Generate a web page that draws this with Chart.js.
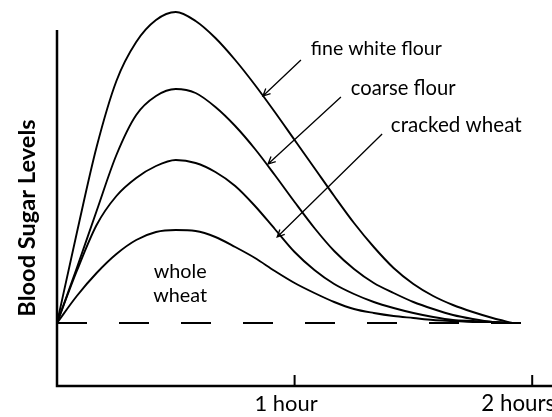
<!DOCTYPE html>
<html>
<head>
<meta charset="utf-8">
<script src="https://cdn.jsdelivr.net/npm/chart.js@4.4.0/dist/chart.umd.min.js"></script>
<style>
    html, body { margin: 0; padding: 0; background: #fff; }
    canvas { display: block; }
</style>
</head>
<body>
<canvas id="sugarChart" width="552" height="417"></canvas>
<script>
// Blood sugar response after eating, minutes after the meal
const minutes = [0, 5, 10, 15, 20, 25, 30, 35, 40, 45, 50, 55, 60, 65, 70, 75, 80, 85, 90, 95, 100, 105, 110, 115];
const fineWhiteFlour = [0, 90, 176, 242, 281, 303, 311, 302, 285, 263, 238, 211, 183, 155, 127, 100, 76, 55, 39, 27, 18, 11, 5, 0];
const coarseFlour = [0, 55, 112, 168, 208, 227, 234, 230, 216, 197, 174, 148, 121, 95, 72, 54, 40, 30, 21, 14, 8, 4, 1, 0];
const crackedWheat = [0, 52, 98, 127, 145, 157, 163, 160, 151, 137, 117, 94, 71, 53, 39, 29, 21, 15, 10, 6, 3, 2, 1, 0];
const wholeWheat = [0, 27, 50, 69, 83, 91, 93, 92, 86, 76, 65, 52, 40, 30, 21, 14, 10, 7, 5, 3, 2, 1, 1, 0];
// fasting level, drawn dashed
const baselineMinutes = [0, 118];
const hourTicks = [60, 120];
const hourLabels = ['1 hour', '2 hours'];

const toPoints = vals => vals.map((v, i) => ({ x: minutes[i], y: v }));

function curve(label, vals) {
    return {
        label,
        data: toPoints(vals),
        borderColor: '#000',
        borderWidth: 1.9,
        pointRadius: 0,
        cubicInterpolationMode: 'monotone',
        clip: false
    };
}

// text sized to a width, like the original lettering
function fitText(ctx, text, weight, width) {
    ctx.font = weight + ' 20px Lato';
    const size = 20 * width / ctx.measureText(text).width;
    ctx.font = weight + ' ' + size.toFixed(1) + 'px Lato';
}

function arrow(ctx, x1, y1, x2, y2) {
    const a = Math.atan2(y2 - y1, x2 - x1);
    ctx.beginPath();
    ctx.moveTo(x1, y1);
    ctx.lineTo(x2, y2);
    ctx.moveTo(x2 - 8 * Math.cos(a - 0.45), y2 - 8 * Math.sin(a - 0.45));
    ctx.lineTo(x2, y2);
    ctx.lineTo(x2 - 8 * Math.cos(a + 0.45), y2 - 8 * Math.sin(a + 0.45));
    ctx.stroke();
}

const decor = {
    id: 'decor',
    afterDatasetsDraw(chart) {
        const { ctx, chartArea, scales: { x, y } } = chart;
        const px = v => x.getPixelForValue(v);
        const py = v => y.getPixelForValue(v);
        ctx.save();
        ctx.strokeStyle = '#000';
        ctx.fillStyle = '#000';

        // axes
        ctx.lineWidth = 2.5;
        ctx.beginPath();
        ctx.moveTo(px(0), py(293));
        ctx.lineTo(px(0), chartArea.bottom);
        ctx.lineTo(chart.width, chartArea.bottom);
        ctx.stroke();

        // hour ticks point up into the plot
        ctx.lineWidth = 2;
        ctx.textAlign = 'right';
        ctx.textBaseline = 'alphabetic';
        hourTicks.forEach((t, i) => {
            ctx.beginPath();
            ctx.moveTo(px(t), chartArea.bottom);
            ctx.lineTo(px(t), chartArea.bottom - 11);
            ctx.stroke();
            fitText(ctx, hourLabels[i], 'normal', i === 0 ? 63 : 74);
            ctx.fillText(hourLabels[i], px(t) + 23, chartArea.bottom + 25);
        });

        // y title
        ctx.save();
        ctx.translate(chartArea.left - 30, 218);
        ctx.rotate(-Math.PI / 2);
        ctx.textAlign = 'center';
        ctx.textBaseline = 'middle';
        fitText(ctx, 'Blood Sugar Levels', 'bold', 197);
        ctx.fillText('Blood Sugar Levels', 0, 0);
        ctx.restore();

        // curve labels
        ctx.textAlign = 'left';
        fitText(ctx, 'fine white flour', 'normal', 131);
        ctx.fillText('fine white flour', px(64.1), py(268));
        fitText(ctx, 'coarse flour', 'normal', 105);
        ctx.fillText('coarse flour', px(74.2), py(228));
        fitText(ctx, 'cracked wheat', 'normal', 131);
        ctx.fillText('cracked wheat', px(84.3), py(191));
        ctx.textAlign = 'center';
        fitText(ctx, 'whole', 'normal', 53);
        ctx.fillText('whole', px(31.1), py(45));
        ctx.fillText('wheat', px(31.1), py(21));

        // pointers
        ctx.lineWidth = 1.3;
        arrow(ctx, px(61.6), py(263), px(52.0), py(227));
        arrow(ctx, px(71.7), py(226), px(53.3), py(159));
        arrow(ctx, px(82.1), py(189), px(55.6), py(86));
        ctx.restore();
    }
};

new Chart(document.getElementById('sugarChart'), {
    type: 'line',
    data: {
        datasets: [
            curve('fine white flour', fineWhiteFlour),
            curve('coarse flour', coarseFlour),
            curve('cracked wheat', crackedWheat),
            curve('whole wheat', wholeWheat),
            {
                label: 'fasting level',
                data: baselineMinutes.map(m => ({ x: m, y: 0 })),
                borderColor: '#000',
                borderWidth: 2,
                borderDash: [30, 32],
                pointRadius: 0
            }
        ]
    },
    options: {
        responsive: false,
        animation: false,
        layout: { padding: { left: 57, right: 0, top: 10, bottom: 31 } },
        plugins: { legend: { display: false }, tooltip: { enabled: false } },
        scales: {
            x: { type: 'linear', min: 0, max: 125, display: false },
            y: { min: -63, max: 313, display: false }
        }
    },
    plugins: [decor]
});
</script>
</body>
</html>
